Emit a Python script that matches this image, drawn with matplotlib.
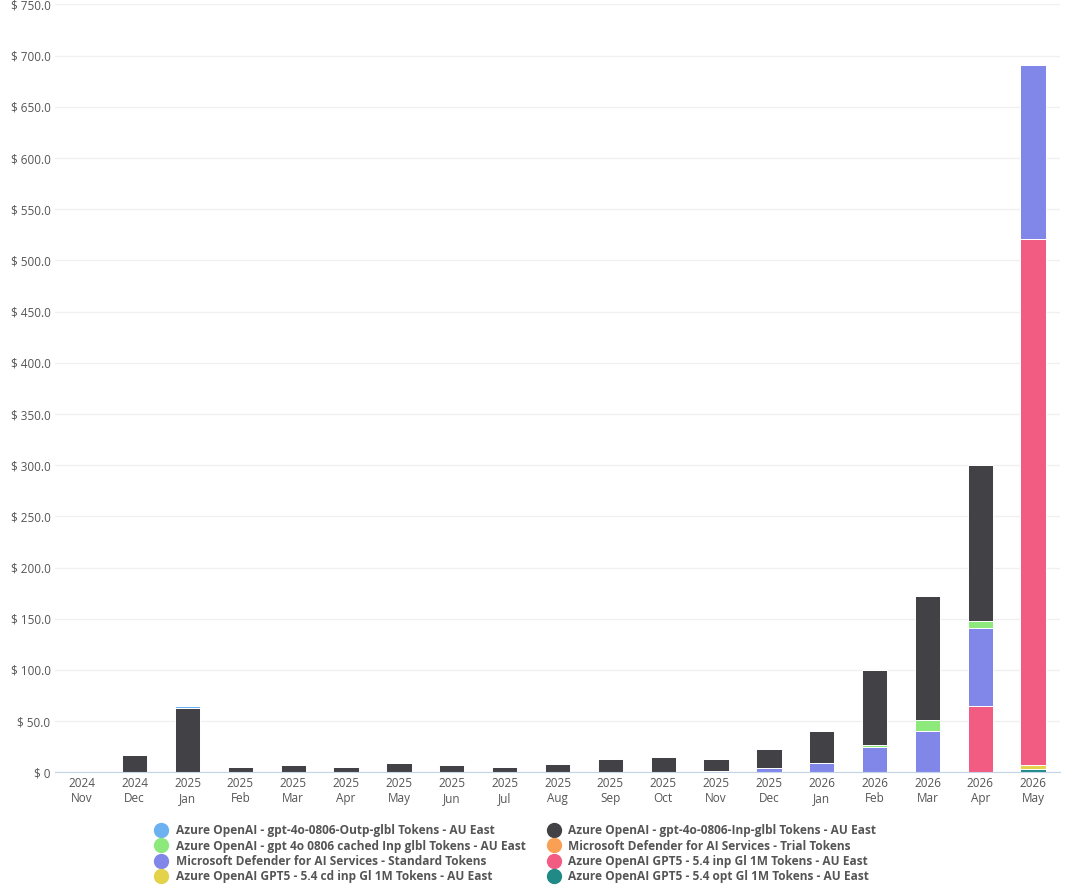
import matplotlib.pyplot as plt
import numpy as np

# ==========================
# Data
# ==========================

months = ["2024\nNov", "2024\nDec", "2025\nJan", "2025\nFeb", "2025\nMar", "2025\nApr",
          "2025\nMay", "2025\nJun", "2025\nJul", "2025\nAug", "2025\nSep", "2025\nOct",
          "2025\nNov", "2025\nDec", "2026\nJan", "2026\nFeb", "2026\nMar", "2026\nApr",
          "2026\nMay"]

opt_gl = [0, 0, 0, 0, 0, 0, 0, 0, 0, 0, 0, 0, 0, 0, 0, 0, 0, 0, 3]
cd_inp_gl = [0, 0, 0, 0, 0, 0, 0, 0, 0, 0, 0, 0, 0, 0, 0, 0, 0, 0, 4.5]
inp_gl = [0, 0, 0, 0, 0, 0, 0, 0, 0, 0, 0, 0, 0, 0, 0, 0, 0, 65, 513]
defender_trial = [0, 0, 0, 0, 0, 0, 0, 0, 0, 0, 0, 0, 0, 0, 0, 0, 0, 0, 0]
defender_std = [0, 0, 0, 0, 0, 0, 0, 0, 0, 0, 0, 0, 1, 4.5, 9.5, 25, 40, 76, 170]
cached_inp = [0, 0, 0, 0, 0, 0, 0, 0, 0, 0, 0, 0, 0, 0, 0, 2, 11, 7, 0]
inp_glbl = [0, 17, 63, 5, 7, 5, 9, 7, 5, 8, 13, 15, 12, 18, 31, 73, 121, 152, 0]
outp_glbl = [0, 0, 2, 0, 0, 0, 0, 0, 0, 0, 0, 0, 0, 0, 0, 0, 0, 0, 0]

series = [
    ("Azure OpenAI GPT5 - 5.4 opt Gl 1M Tokens - AU East", opt_gl, "#208a87"),
    ("Azure OpenAI GPT5 - 5.4 cd inp Gl 1M Tokens - AU East", cd_inp_gl, "#e3d24a"),
    ("Azure OpenAI GPT5 - 5.4 inp Gl 1M Tokens - AU East", inp_gl, "#f25c83"),
    ("Microsoft Defender for AI Services - Trial Tokens", defender_trial, "#f9a054"),
    ("Microsoft Defender for AI Services - Standard Tokens", defender_std, "#8187e8"),
    ("Azure OpenAI - gpt 4o 0806 cached Inp glbl Tokens - AU East", cached_inp, "#8ee97c"),
    ("Azure OpenAI - gpt-4o-0806-Inp-glbl Tokens - AU East", inp_glbl, "#414146"),
    ("Azure OpenAI - gpt-4o-0806-Outp-glbl Tokens - AU East", outp_glbl, "#6cb1f0"),
]

# column-wise order for a 2-column legend read row by row
legend_order = [
    "Azure OpenAI - gpt-4o-0806-Outp-glbl Tokens - AU East",
    "Azure OpenAI - gpt 4o 0806 cached Inp glbl Tokens - AU East",
    "Microsoft Defender for AI Services - Standard Tokens",
    "Azure OpenAI GPT5 - 5.4 cd inp Gl 1M Tokens - AU East",
    "Azure OpenAI - gpt-4o-0806-Inp-glbl Tokens - AU East",
    "Microsoft Defender for AI Services - Trial Tokens",
    "Azure OpenAI GPT5 - 5.4 inp Gl 1M Tokens - AU East",
    "Azure OpenAI GPT5 - 5.4 opt Gl 1M Tokens - AU East",
]

# ==========================
# Plot
# ==========================

plt.rcParams["font.family"] = ["Open Sans", "DejaVu Sans"]

fig = plt.figure(figsize=(10.66, 8.96), dpi=100)
ax = fig.add_axes([0.052, 0.138, 0.942, 0.857])

x = np.arange(len(months))
bottom = np.zeros(len(months))
handles = {}
for name, vals, color in series:
    vals = np.array(vals, dtype=float)
    ax.bar(x, vals, 0.48, bottom=bottom, color=color, edgecolor="white", linewidth=0.7)
    handles[name] = plt.Line2D([], [], marker="o", linestyle="", markersize=10, color=color)
    bottom += vals

ax.set_ylim(0, 750)
ax.set_xlim(-0.5, len(months) - 0.5)
ax.set_yticks(np.arange(0, 751, 50))
ax.set_yticklabels(["$ 0" if v == 0 else f"$ {v:.1f}" for v in np.arange(0, 751, 50)])
ax.set_xticks(x)
ax.set_xticklabels(months)
ax.tick_params(length=0, labelsize=8.5, colors="#555555")
ax.yaxis.grid(True, color="#f0f0f0", linewidth=1)
ax.set_axisbelow(True)
for side in ["top", "right", "left"]:
    ax.spines[side].set_visible(False)
ax.spines["bottom"].set_color("#c5d3e8")

leg = fig.legend([handles[n] for n in legend_order], legend_order, loc="lower left",
                 bbox_to_anchor=(0.13, 0.002), ncol=2, frameon=False, fontsize=8.6,
                 handletextpad=0.2, columnspacing=1.4, labelspacing=0.2)
for t in leg.get_texts():
    t.set_color("#555555")
    t.set_fontweight("bold")

plt.savefig("out.png")
